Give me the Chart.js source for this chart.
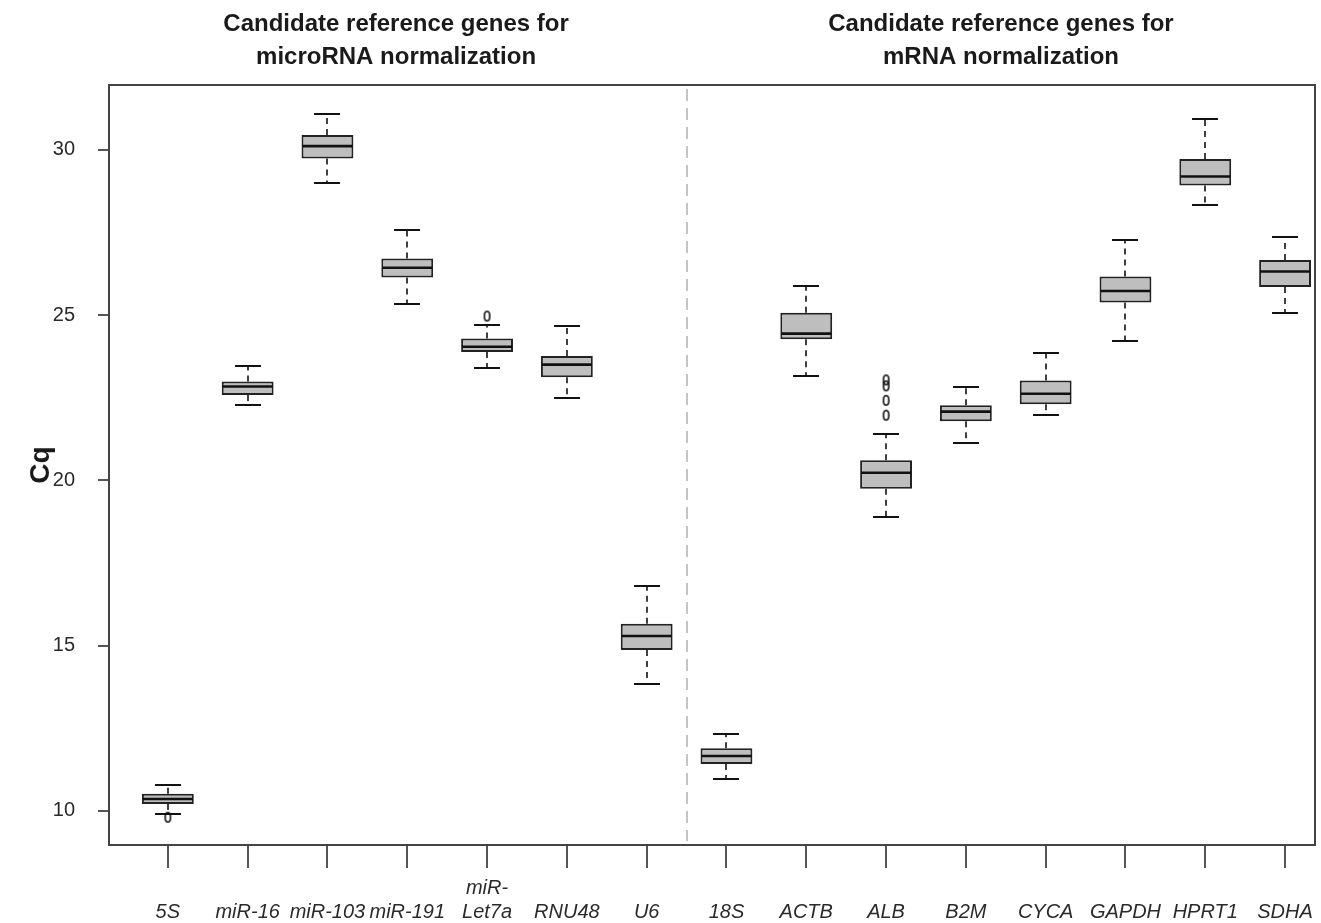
<!DOCTYPE html>
<html>
<head>
<meta charset="utf-8">
<script src="https://cdn.jsdelivr.net/npm/chart.js@4.4.1/dist/chart.umd.min.js"></script>
<style>
  body { margin: 0; background: #fff; }
</style>
</head>
<body>
<canvas id="cqChart" width="1321" height="923"></canvas>
<script>
// genes on the x axis, in plot order
const genes = ['5S', 'miR-16', 'miR-103', 'miR-191', 'miR-Let7a', 'RNU48', 'U6',
               '18S', 'ACTB', 'ALB', 'B2M', 'CYCA', 'GAPDH', 'HPRT1', 'SDHA'];
const tickLabels = [['', '5S'], ['', 'miR-16'], ['', 'miR-103'], ['', 'miR-191'], ['miR-', 'Let7a'],
                    ['', 'RNU48'], ['', 'U6'], ['', '18S'], ['', 'ACTB'], ['', 'ALB'], ['', 'B2M'],
                    ['', 'CYCA'], ['', 'GAPDH'], ['', 'HPRT1'], ['', 'SDHA']];

// box plot statistics (Cq)
const whiskerLow  = [9.90, 22.29, 28.99, 25.35, 23.41, 22.49, 13.85, 10.97, 23.17, 18.88, 21.13, 21.99, 24.22, 28.33, 25.07];
const q1          = [10.21, 22.58, 29.74, 26.14, 23.88, 23.12, 14.87, 11.42, 24.27, 19.75, 21.79, 22.30, 25.38, 28.92, 25.85];
const median      = [10.36, 22.84, 30.11, 26.43, 24.04, 23.50, 15.29, 11.66, 24.44, 20.23, 22.08, 22.62, 25.73, 29.19, 26.32];
const q3          = [10.52, 22.99, 30.45, 26.71, 24.29, 23.76, 15.66, 11.90, 25.07, 20.61, 22.27, 23.02, 26.17, 29.72, 26.67];
const whiskerHigh = [10.80, 23.46, 31.08, 27.56, 24.71, 24.67, 16.80, 12.33, 25.89, 21.40, 22.82, 23.85, 27.27, 30.94, 27.36];
const outliers    = [[9.81], [], [], [], [24.97], [], [], [], [], [21.97, 22.42, 22.86, 23.04], [], [], [], [], []];

const yTicks = [10, 15, 20, 25, 30];
const groupTitles = [['Candidate reference genes for', 'microRNA normalization'],
                     ['Candidate reference genes for', 'mRNA normalization']];
const groupTitleX = [3.86, 11.44];
const separatorX = 7.5;
const BOX_W = 0.65;

function ellipseMarker() {
    const c = document.createElement('canvas');
    c.width = 9;
    c.height = 13;
    const g = c.getContext('2d');
    g.strokeStyle = '#111';
    g.lineWidth = 1.6;
    g.beginPath();
    g.ellipse(4.5, 6.5, 2.7, 4.7, 0, 0, Math.PI * 2);
    g.stroke();
    return c;
}

const boxPlotPlugin = {
    id: 'boxPlot',
    beforeDatasetsDraw(chart) {
        const {ctx, chartArea, scales: {x, y}} = chart;
        ctx.save();
        // separator between the two groups
        ctx.strokeStyle = '#c4c4c4';
        ctx.lineWidth = 2;
        ctx.setLineDash([12, 7]);
        const sx = Math.round(x.getPixelForValue(separatorX));
        ctx.beginPath();
        ctx.moveTo(sx, chartArea.top + 4);
        ctx.lineTo(sx, chartArea.bottom - 4);
        ctx.stroke();

        // whiskers
        genes.forEach((g, i) => {
            const cx = Math.round(x.getPixelForValue(i + 1));
            const half = (x.getPixelForValue(i + 1 + BOX_W / 4) - x.getPixelForValue(i + 1));
            ctx.strokeStyle = '#111';
            ctx.lineWidth = 1.6;
            ctx.setLineDash([6, 5]);
            ctx.beginPath();
            ctx.moveTo(cx, y.getPixelForValue(q3[i]));
            ctx.lineTo(cx, y.getPixelForValue(whiskerHigh[i]));
            ctx.moveTo(cx, y.getPixelForValue(q1[i]));
            ctx.lineTo(cx, y.getPixelForValue(whiskerLow[i]));
            ctx.stroke();
            ctx.setLineDash([]);
            ctx.lineWidth = 2;
            ctx.beginPath();
            [whiskerHigh[i], whiskerLow[i]].forEach(v => {
                const py = Math.round(y.getPixelForValue(v));
                ctx.moveTo(cx - half, py);
                ctx.lineTo(cx + half, py);
            });
            ctx.stroke();
        });
        ctx.restore();
    },
    afterDatasetsDraw(chart) {
        const {ctx, chartArea, scales: {x, y}} = chart;
        ctx.save();
        // medians
        ctx.strokeStyle = '#111';
        ctx.lineWidth = 2.6;
        genes.forEach((g, i) => {
            const l = x.getPixelForValue(i + 1 - BOX_W / 2);
            const r = x.getPixelForValue(i + 1 + BOX_W / 2);
            const py = y.getPixelForValue(median[i]);
            ctx.beginPath();
            ctx.moveTo(l + 1, py);
            ctx.lineTo(r - 1, py);
            ctx.stroke();
        });
        // frame
        ctx.strokeStyle = '#444';
        ctx.lineWidth = 2;
        ctx.strokeRect(chartArea.left, chartArea.top, chartArea.right - chartArea.left, chartArea.bottom - chartArea.top);

        // group titles
        ctx.fillStyle = '#1a1a1a';
        ctx.font = 'bold 24px "Liberation Sans", Arial, sans-serif';
        ctx.textAlign = 'center';
        ctx.textBaseline = 'middle';
        groupTitles.forEach((lines, k) => {
            const tx = x.getPixelForValue(groupTitleX[k]);
            lines.forEach((t, j) => ctx.fillText(t, tx, 24 + j * 33));
        });
        ctx.restore();
    }
};

const ctx = document.getElementById('cqChart').getContext('2d');
new Chart(ctx, {
    type: 'bar',
    data: {
        datasets: [{
            label: 'IQR',
            data: genes.map((g, i) => ({x: i + 1, y: [q1[i], q3[i]]})),
            backgroundColor: '#bebebe',
            borderColor: '#222',
            borderWidth: 2,
            borderSkipped: false,
            categoryPercentage: 1,
            barPercentage: BOX_W
        }, {
            type: 'scatter',
            label: 'outliers',
            data: outliers.flatMap((vals, i) => vals.map(v => ({x: i + 1, y: v}))),
            pointStyle: ellipseMarker(),
            pointRadius: 5
        }]
    },
    options: {
        responsive: false,
        animation: false,
        layout: { padding: { top: 85, right: 0, left: 0, bottom: 0 } },
        plugins: {
            legend: { display: false },
            tooltip: { enabled: false }
        },
        scales: {
            x: {
                type: 'linear',
                offset: false,
                min: 0.2625,
                max: 15.375,
                afterBuildTicks: axis => { axis.ticks = genes.map((g, i) => ({value: i + 1})); },
                afterFit: axis => { axis.height = 78; },
                grid: { offset: false, drawOnChartArea: false, drawTicks: true, tickLength: 23, color: '#555', lineWidth: 2 },
                border: { display: false },
                ticks: {
                    autoSkip: false,
                    maxRotation: 0,
                    padding: 8,
                    color: '#2a2a2a',
                    font: { family: '"Liberation Sans", Arial, sans-serif', size: 20, style: 'italic', lineHeight: 1.2 },
                    callback: value => tickLabels[value - 1]
                }
            },
            y: {
                min: 8.97,
                max: 31.96,
                afterBuildTicks: axis => { axis.ticks = yTicks.map(v => ({value: v})); },
                afterFit: axis => { axis.width = 109; },
                grid: { drawOnChartArea: false, drawTicks: true, tickLength: 11, color: '#555', lineWidth: 2 },
                border: { display: false },
                ticks: {
                    padding: 23,
                    color: '#2a2a2a',
                    font: { family: '"Liberation Sans", Arial, sans-serif', size: 20 }
                },
                title: {
                    display: true,
                    text: 'Cq',
                    color: '#1a1a1a',
                    padding: { top: 24, bottom: 0 },
                    font: { family: '"Liberation Sans", Arial, sans-serif', size: 28, weight: 'bold' }
                }
            }
        }
    },
    plugins: [boxPlotPlugin]
});
</script>
</body>
</html>
